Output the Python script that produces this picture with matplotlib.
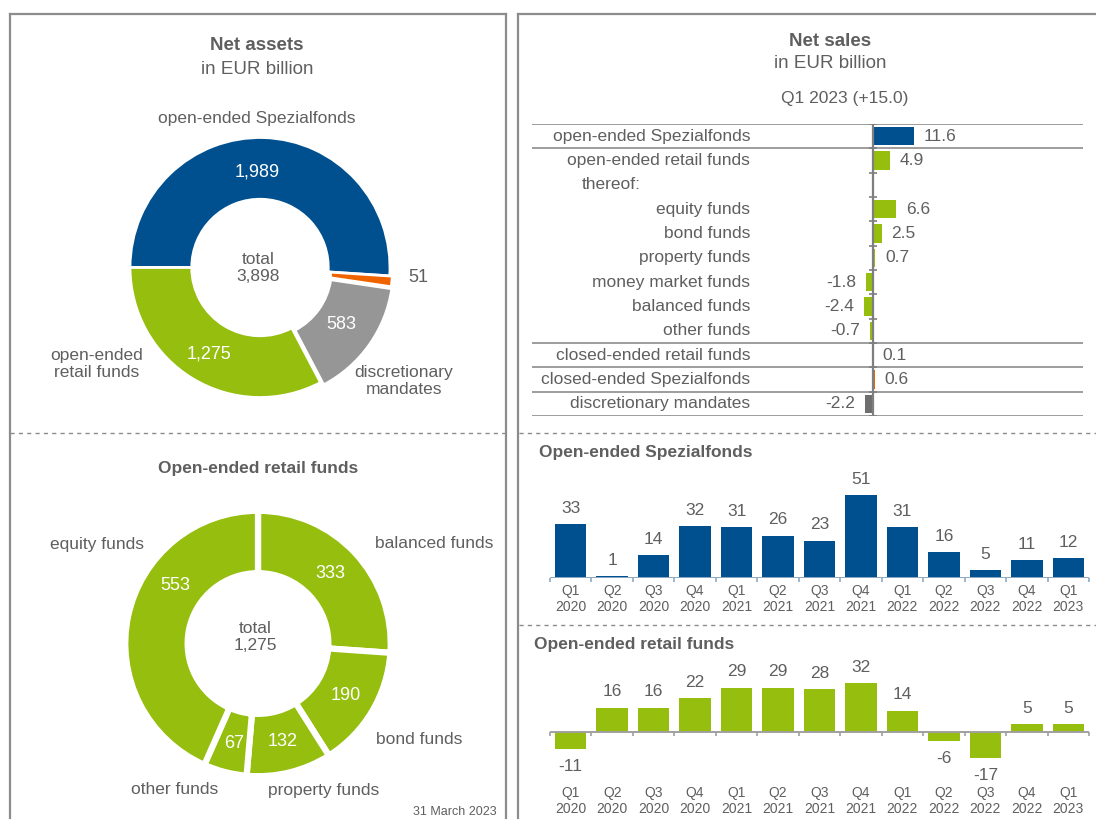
import numpy as np
import matplotlib
matplotlib.use('Agg')
import matplotlib.pyplot as plt
from matplotlib.lines import Line2D

plt.rcParams['font.family'] = ['Liberation Sans', 'DejaVu Sans']

# Data
asset_names = ['open-ended Spezialfonds', 'closed-ended funds', 'discretionary mandates', 'open-ended retail funds']
asset_values = [1989, 51, 583, 1275]
asset_total = '3,898'

retail_names = ['balanced funds', 'bond funds', 'property funds', 'other funds', 'equity funds']
retail_values = [333, 190, 132, 67, 553]
retail_total = '1,275'

sales_names = ['open-ended Spezialfonds', 'open-ended retail funds', 'thereof:', 'equity funds',
               'bond funds', 'property funds', 'money market funds', 'balanced funds', 'other funds',
               'closed-ended retail funds', 'closed-ended Spezialfonds', 'discretionary mandates']
sales_values = [11.6, 4.9, None, 6.6, 2.5, 0.7, -1.8, -2.4, -0.7, 0.1, 0.6, -2.2]

quarters = ['Q1\n2020', 'Q2\n2020', 'Q3\n2020', 'Q4\n2020', 'Q1\n2021', 'Q2\n2021', 'Q3\n2021',
            'Q4\n2021', 'Q1\n2022', 'Q2\n2022', 'Q3\n2022', 'Q4\n2022', 'Q1\n2023']
spezial_sales = [33, 1, 14, 32, 31, 26, 23, 51, 31, 16, 5, 11, 12]
retail_sales = [-11, 16, 16, 22, 29, 29, 28, 32, 14, -6, -17, 5, 5]

# Colours
BLUE = '#00508f'
GREEN = '#95be0f'
ORANGE = '#f06400'
LGRAY = '#969696'
DGRAY = '#6e6e6e'
TXT = '#5f5f5f'
LINE = '#8c8c8c'

W, H = 1096, 819
fig = plt.figure(figsize=(W / 100, H / 100), dpi=100)


def box(x0, y0, x1, y1):
    return [x0 / W, 1 - y1 / H, (x1 - x0) / W, (y1 - y0) / H]


def txt(x, y, s, **kw):
    kw.setdefault('color', TXT)
    kw.setdefault('fontsize', 12.5)
    kw.setdefault('ha', 'center')
    kw.setdefault('va', 'center')
    fig.text(x / W, 1 - y / H, s, **kw)


def fline(x0, y0, x1, y1, **kw):
    fig.add_artist(Line2D([x0 / W, x1 / W], [1 - y0 / H, 1 - y1 / H], **kw))


# panel frames
frame = dict(color=LINE, lw=1.6)
fline(9.5, 14, 505.5, 14, **frame)
fline(9.5, 14, 9.5, 819, **frame)
fline(505.5, 14, 505.5, 819, **frame)
fline(518, 14, 1096, 14, **frame)
fline(518, 14, 518, 819, **frame)
dash = dict(color=LINE, lw=1, ls=(0, (3, 3)))
fline(10, 433, 505, 433, **dash)
fline(519, 433, 1096, 433, **dash)
fline(519, 625, 1096, 625, **dash)

# ---- Net assets donut
txt(257, 46, 'Net assets', fontsize=13.5, fontweight='bold')
txt(257, 70, 'in EUR billion', fontsize=13.5)

ax1 = fig.add_axes(box(260 - 143, 267.5 - 143, 260 + 143, 267.5 + 143))
ax1.pie(asset_values, colors=[BLUE, ORANGE, LGRAY, GREEN], startangle=180, counterclock=False,
        explode=[0, 0.02, 0.03, 0],
        wedgeprops=dict(width=0.475, edgecolor='white', linewidth=2))
ax1.set_xlim(-1.1, 1.1)
ax1.set_ylim(-1.1, 1.1)

txt(257, 119, asset_names[0])
txt(418, 278, str(asset_values[1]), fontsize=13)
txt(404, 381, 'discretionary\nmandates')
txt(97, 364, 'open-ended\nretail funds')
txt(258, 268, 'total\n' + asset_total)
txt(257, 172, '1,989', color='white', fontsize=13)
txt(341, 325, str(asset_values[2]), color='white', fontsize=13)
txt(209, 354, '1,275', color='white', fontsize=13)

# ---- Open-ended retail funds donut
txt(258, 469, 'Open-ended retail funds', fontweight='bold')
ax2 = fig.add_axes(box(258 - 146, 643.5 - 146, 258 + 146, 643.5 + 146))
ax2.pie(retail_values, colors=[GREEN] * 5, startangle=90, counterclock=False,
        wedgeprops=dict(width=0.47, edgecolor='white', linewidth=4.5))
ax2.set_xlim(-1.1, 1.1)
ax2.set_ylim(-1.1, 1.1)

txt(97, 544, 'equity funds')
txt(434, 543, 'balanced funds')
txt(419, 740, 'bond funds')
txt(324, 791, 'property funds')
txt(175, 789, 'other funds')
txt(255, 637, 'total\n' + retail_total)
for (x, y), v in zip([(330, 574), (346, 695), (283, 742), (234, 743), (175, 585)], retail_values):
    txt(x, y, str(v), color='white', fontsize=13)
txt(455, 818, '31 March 2023', fontsize=9, va='bottom')

# ---- Net sales Q1 2023
txt(830, 41, 'Net sales', fontsize=13.5, fontweight='bold')
txt(830, 64, 'in EUR billion', fontsize=13.5)
txt(845, 99, 'Q1 2023 (+15.0)')

ax3 = fig.add_axes(box(532, 124, 1083, 416))
px_unit = 3.55
ax3.set_xlim(-(872.7 - 532) / px_unit, (1083 - 872.7) / px_unit)
ax3.set_ylim(11.5, -0.5)
ax3.axis('off')

bar_colors = [BLUE] + [GREEN] * 8 + ['#c8c8c8', ORANGE, DGRAY]
rows = [i for i, v in enumerate(sales_values) if v is not None]
vals = [sales_values[i] for i in rows]
ax3.barh(rows, vals, height=0.75, color=[bar_colors[i] for i in rows])
ax3.hlines([-0.5, 0.5, 8.5, 9.5, 10.5, 11.5], *ax3.get_xlim(), color=LINE, lw=1.2)
ax3.vlines(0, -0.5, 11.5, color='#7f7f7f', lw=1.6)
ax3.hlines(np.arange(-0.5, 12, 1), -1.1, 1.1, color='#7f7f7f', lw=1.2)

lab_tr = ax3.get_yaxis_transform()
for i, name in enumerate(sales_names):
    if name == 'thereof:':
        ax3.text(0.091, i, name, transform=lab_tr, ha='left', va='center', color=TXT, fontsize=12.5)
    else:
        ax3.text(0.396, i, name, transform=lab_tr, ha='right', va='center', color=TXT, fontsize=12.5)
for r, v in zip(rows, vals):
    off = 7 if v >= 0 else -7
    ax3.annotate(f'{v:.1f}', (v, r), xytext=(off, 0), textcoords='offset points',
                 ha='left' if v >= 0 else 'right', va='center', color=TXT, fontsize=12.5)


# ---- quarterly bar charts
def quarter_chart(rect, values, color, ylim, title_xy, title):
    ax = fig.add_axes(rect)
    x = np.arange(len(values))
    ax.bar(x, values, width=0.76, color=color)
    ax.set_xlim(-0.5, len(values) - 0.5)
    ax.set_ylim(*ylim)
    for s in ax.spines.values():
        s.set_visible(False)
    ax.set_yticks([])
    ax.set_xticks(x)
    ax.set_xticklabels(quarters, fontsize=10, color=TXT, linespacing=1.25)
    ax.tick_params(axis='x', length=0, pad=4)
    base_col = '#8fa9c4' if color == BLUE else '#a0a0a0'
    ax.axhline(0, color=base_col, lw=1.4)
    tick_h = 4 / (ax.get_window_extent().height / (ylim[1] - ylim[0]))
    ax.vlines(np.arange(-0.5, len(values)), -tick_h, 0, color=base_col, lw=1.2, clip_on=False)
    for xi, v in zip(x, values):
        if v >= 0:
            ax.annotate(str(v), (xi, v), xytext=(0, 6), textcoords='offset points',
                        ha='center', va='bottom', color=TXT, fontsize=12.5)
        else:
            ax.annotate(str(v), (xi, v), xytext=(0, -7), textcoords='offset points',
                        ha='center', va='top', color=TXT, fontsize=12.5)
    txt(title_xy[0], title_xy[1], title, ha='left', fontweight='bold')
    return ax


quarter_chart(box(550, 480, 1089, 578), spezial_sales, BLUE, (0, (578 - 480) / 1.63),
              (539, 452), 'Open-ended Spezialfonds')
quarter_chart(box(550, 660, 1089, 780), retail_sales, GREEN, (-(780 - 732) / 1.53, (732 - 660) / 1.53),
              (534, 645), 'Open-ended retail funds')

fig.savefig('out.png', dpi=100)
